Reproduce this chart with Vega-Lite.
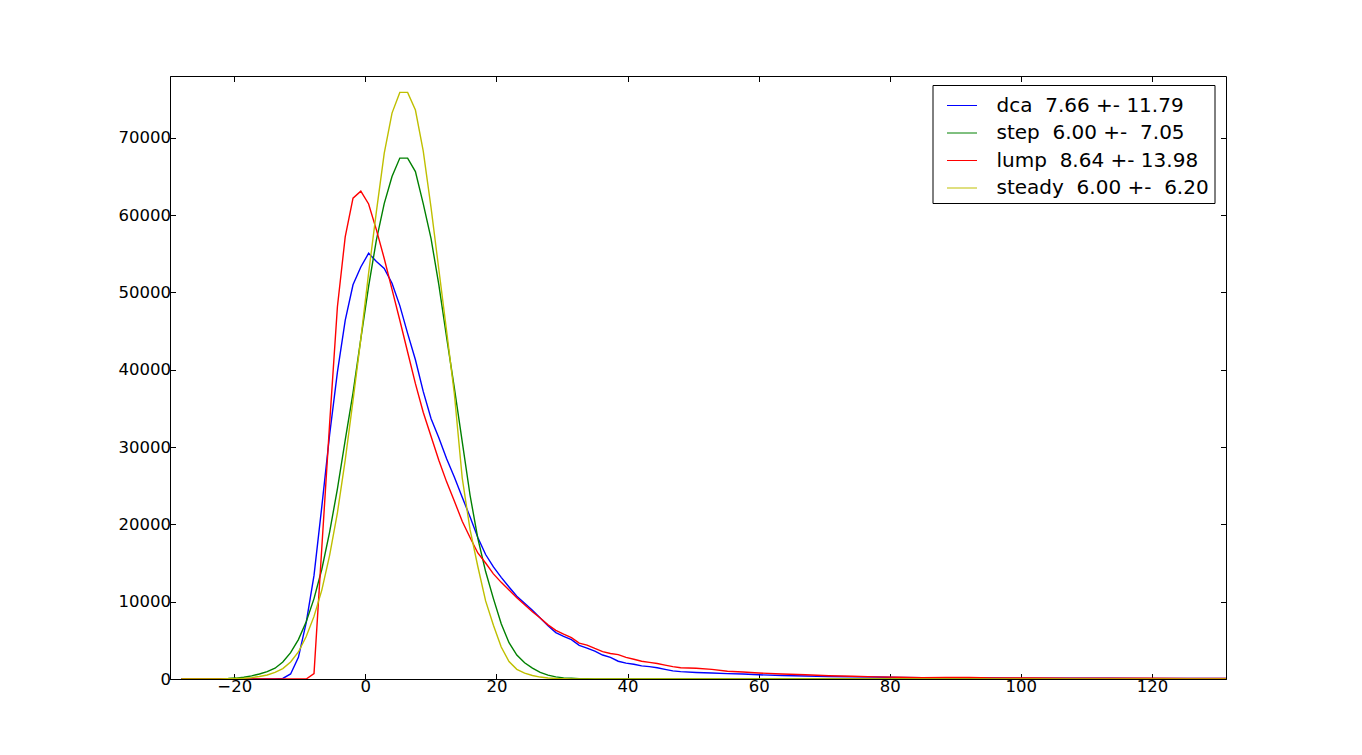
{
  "$schema": "https://vega.github.io/schema/vega-lite/v6.json",
  "width": 1056,
  "height": 603,
  "autosize": {"type": "none"},
  "padding": {"left": 170, "top": 76, "right": 136, "bottom": 76},
  "background": "white",
  "config": {
    "font": "DejaVu Sans",
    "view": {"stroke": "black", "strokeWidth": 1},
    "axis": {
      "grid": false,
      "domainColor": "black",
      "tickColor": "black",
      "labelColor": "black",
      "labelFont": "DejaVu Sans",
      "labelFontSize": 16.5,
      "tickSize": -5.5,
      "labelPadding": 5,
      "title": null
    },
    "legend": {
      "orient": "none",
      "legendX": 762.5,
      "legendY": 9,
      "title": null,
      "symbolType": "stroke",
      "symbolSize": 900,
      "symbolStrokeWidth": 1,
      "labelFont": "DejaVu Sans",
      "labelFontSize": 20,
      "labelColor": "black",
      "labelLimit": 400,
      "strokeColor": "black",
      "fillColor": "white",
      "padding": 5,
      "symbolOffset": 9,
      "labelOffset": 19,
      "rowPadding": 1.5,
      "cornerRadius": 0
    }
  },
  "data": {
    "values": [
      {"s": "dca", "x": -28.06, "y": 0}, {"s": "dca", "x": -20.92, "y": 0}, {"s": "dca", "x": -13.78, "y": 10},
      {"s": "dca", "x": -12.59, "y": 70}, {"s": "dca", "x": -11.4, "y": 650}, {"s": "dca", "x": -10.21, "y": 2800},
      {"s": "dca", "x": -9.02, "y": 7300}, {"s": "dca", "x": -7.83, "y": 13400}, {"s": "dca", "x": -6.64, "y": 22300},
      {"s": "dca", "x": -5.45, "y": 31600}, {"s": "dca", "x": -4.26, "y": 39700}, {"s": "dca", "x": -3.07, "y": 46400},
      {"s": "dca", "x": -1.88, "y": 51000}, {"s": "dca", "x": -0.69, "y": 53300}, {"s": "dca", "x": 0.5, "y": 55070},
      {"s": "dca", "x": 1.69, "y": 54000}, {"s": "dca", "x": 2.88, "y": 53100}, {"s": "dca", "x": 4.07, "y": 51200},
      {"s": "dca", "x": 5.26, "y": 48300}, {"s": "dca", "x": 6.45, "y": 44700}, {"s": "dca", "x": 7.64, "y": 41300},
      {"s": "dca", "x": 8.83, "y": 37200}, {"s": "dca", "x": 10.02, "y": 33700}, {"s": "dca", "x": 11.21, "y": 31200},
      {"s": "dca", "x": 12.4, "y": 28500}, {"s": "dca", "x": 13.59, "y": 26100}, {"s": "dca", "x": 14.78, "y": 23500},
      {"s": "dca", "x": 15.97, "y": 21000}, {"s": "dca", "x": 17.16, "y": 18300}, {"s": "dca", "x": 18.35, "y": 16100},
      {"s": "dca", "x": 19.54, "y": 14500}, {"s": "dca", "x": 20.73, "y": 13150}, {"s": "dca", "x": 21.92, "y": 11900},
      {"s": "dca", "x": 23.11, "y": 10700}, {"s": "dca", "x": 24.3, "y": 9800}, {"s": "dca", "x": 25.49, "y": 8900},
      {"s": "dca", "x": 26.68, "y": 7900}, {"s": "dca", "x": 27.87, "y": 6900}, {"s": "dca", "x": 29.06, "y": 6000},
      {"s": "dca", "x": 30.25, "y": 5500}, {"s": "dca", "x": 31.44, "y": 5100}, {"s": "dca", "x": 32.63, "y": 4350},
      {"s": "dca", "x": 33.82, "y": 4000}, {"s": "dca", "x": 35.01, "y": 3600}, {"s": "dca", "x": 36.2, "y": 3100},
      {"s": "dca", "x": 37.39, "y": 2800}, {"s": "dca", "x": 38.58, "y": 2300}, {"s": "dca", "x": 39.77, "y": 2050},
      {"s": "dca", "x": 40.96, "y": 1900}, {"s": "dca", "x": 42.15, "y": 1700}, {"s": "dca", "x": 43.34, "y": 1600},
      {"s": "dca", "x": 44.53, "y": 1450}, {"s": "dca", "x": 45.72, "y": 1250}, {"s": "dca", "x": 46.91, "y": 1050},
      {"s": "dca", "x": 48.1, "y": 950}, {"s": "dca", "x": 50.48, "y": 850}, {"s": "dca", "x": 52.86, "y": 780},
      {"s": "dca", "x": 55.24, "y": 700}, {"s": "dca", "x": 57.62, "y": 650}, {"s": "dca", "x": 60.0, "y": 550},
      {"s": "dca", "x": 63.57, "y": 450}, {"s": "dca", "x": 67.14, "y": 380}, {"s": "dca", "x": 70.71, "y": 330},
      {"s": "dca", "x": 74.28, "y": 300}, {"s": "dca", "x": 77.85, "y": 260}, {"s": "dca", "x": 81.42, "y": 200},
      {"s": "dca", "x": 84.99, "y": 160}, {"s": "dca", "x": 88.56, "y": 140}, {"s": "dca", "x": 92.13, "y": 130},
      {"s": "dca", "x": 95.7, "y": 120}, {"s": "dca", "x": 101.65, "y": 110}, {"s": "dca", "x": 107.6, "y": 100},
      {"s": "dca", "x": 113.55, "y": 90}, {"s": "dca", "x": 119.5, "y": 80}, {"s": "dca", "x": 125.45, "y": 70},
      {"s": "dca", "x": 131.4, "y": 60},

      {"s": "step", "x": -28.06, "y": 0}, {"s": "step", "x": -26.87, "y": 5}, {"s": "step", "x": -25.68, "y": 10},
      {"s": "step", "x": -24.49, "y": 15}, {"s": "step", "x": -23.3, "y": 25}, {"s": "step", "x": -22.11, "y": 45},
      {"s": "step", "x": -20.92, "y": 70}, {"s": "step", "x": -19.73, "y": 120}, {"s": "step", "x": -18.54, "y": 220},
      {"s": "step", "x": -17.35, "y": 400}, {"s": "step", "x": -16.16, "y": 650}, {"s": "step", "x": -14.97, "y": 950},
      {"s": "step", "x": -13.78, "y": 1400}, {"s": "step", "x": -12.59, "y": 2200}, {"s": "step", "x": -11.4, "y": 3400},
      {"s": "step", "x": -10.21, "y": 5100}, {"s": "step", "x": -9.02, "y": 7400}, {"s": "step", "x": -7.83, "y": 10400},
      {"s": "step", "x": -6.64, "y": 14200}, {"s": "step", "x": -5.45, "y": 19000}, {"s": "step", "x": -4.26, "y": 24600},
      {"s": "step", "x": -3.07, "y": 30900}, {"s": "step", "x": -1.88, "y": 37000}, {"s": "step", "x": -0.69, "y": 44000},
      {"s": "step", "x": 0.5, "y": 50800}, {"s": "step", "x": 1.69, "y": 56800}, {"s": "step", "x": 2.88, "y": 61500},
      {"s": "step", "x": 4.07, "y": 65000}, {"s": "step", "x": 5.26, "y": 67380}, {"s": "step", "x": 6.45, "y": 67380},
      {"s": "step", "x": 7.64, "y": 65640}, {"s": "step", "x": 8.83, "y": 61500}, {"s": "step", "x": 10.02, "y": 57000},
      {"s": "step", "x": 11.21, "y": 51000}, {"s": "step", "x": 12.4, "y": 44200}, {"s": "step", "x": 13.59, "y": 37600},
      {"s": "step", "x": 14.78, "y": 30700}, {"s": "step", "x": 15.97, "y": 23800}, {"s": "step", "x": 17.16, "y": 18200},
      {"s": "step", "x": 18.35, "y": 13900}, {"s": "step", "x": 19.54, "y": 10400}, {"s": "step", "x": 20.73, "y": 7150},
      {"s": "step", "x": 21.92, "y": 4700}, {"s": "step", "x": 23.11, "y": 3100}, {"s": "step", "x": 24.3, "y": 2100},
      {"s": "step", "x": 25.49, "y": 1400}, {"s": "step", "x": 26.68, "y": 850}, {"s": "step", "x": 27.87, "y": 500},
      {"s": "step", "x": 29.06, "y": 280}, {"s": "step", "x": 30.25, "y": 150}, {"s": "step", "x": 31.44, "y": 90},
      {"s": "step", "x": 32.63, "y": 50}, {"s": "step", "x": 33.82, "y": 30}, {"s": "step", "x": 35.01, "y": 15},
      {"s": "step", "x": 36.2, "y": 10}, {"s": "step", "x": 37.39, "y": 5}, {"s": "step", "x": 38.58, "y": 0},
      {"s": "step", "x": 131.4, "y": 0},

      {"s": "lump", "x": -28.06, "y": 0}, {"s": "lump", "x": -9.02, "y": 0}, {"s": "lump", "x": -7.83, "y": 700},
      {"s": "lump", "x": -6.64, "y": 17000}, {"s": "lump", "x": -5.45, "y": 33000}, {"s": "lump", "x": -4.26, "y": 48150},
      {"s": "lump", "x": -3.07, "y": 57200}, {"s": "lump", "x": -1.88, "y": 62200}, {"s": "lump", "x": -0.69, "y": 63100},
      {"s": "lump", "x": 0.5, "y": 61450}, {"s": "lump", "x": 1.69, "y": 58100}, {"s": "lump", "x": 2.88, "y": 54400},
      {"s": "lump", "x": 4.07, "y": 50400}, {"s": "lump", "x": 5.26, "y": 46400}, {"s": "lump", "x": 6.45, "y": 42300},
      {"s": "lump", "x": 7.64, "y": 38200}, {"s": "lump", "x": 8.83, "y": 34500}, {"s": "lump", "x": 10.02, "y": 31400},
      {"s": "lump", "x": 11.21, "y": 28300}, {"s": "lump", "x": 12.4, "y": 25500}, {"s": "lump", "x": 13.59, "y": 23000},
      {"s": "lump", "x": 14.78, "y": 20400}, {"s": "lump", "x": 15.97, "y": 18300}, {"s": "lump", "x": 17.16, "y": 16300},
      {"s": "lump", "x": 18.35, "y": 15000}, {"s": "lump", "x": 19.54, "y": 13600}, {"s": "lump", "x": 20.73, "y": 12500},
      {"s": "lump", "x": 21.92, "y": 11500}, {"s": "lump", "x": 23.11, "y": 10500}, {"s": "lump", "x": 24.3, "y": 9600},
      {"s": "lump", "x": 25.49, "y": 8700}, {"s": "lump", "x": 26.68, "y": 7900}, {"s": "lump", "x": 27.87, "y": 7000},
      {"s": "lump", "x": 29.06, "y": 6300}, {"s": "lump", "x": 30.25, "y": 5800}, {"s": "lump", "x": 31.44, "y": 5350},
      {"s": "lump", "x": 32.63, "y": 4650}, {"s": "lump", "x": 33.82, "y": 4380}, {"s": "lump", "x": 35.01, "y": 3950},
      {"s": "lump", "x": 36.2, "y": 3550}, {"s": "lump", "x": 37.39, "y": 3300}, {"s": "lump", "x": 38.58, "y": 3150},
      {"s": "lump", "x": 39.77, "y": 2800}, {"s": "lump", "x": 40.96, "y": 2550}, {"s": "lump", "x": 42.15, "y": 2300},
      {"s": "lump", "x": 43.34, "y": 2150}, {"s": "lump", "x": 44.53, "y": 2000}, {"s": "lump", "x": 45.72, "y": 1800},
      {"s": "lump", "x": 46.91, "y": 1600}, {"s": "lump", "x": 48.1, "y": 1450}, {"s": "lump", "x": 50.48, "y": 1400},
      {"s": "lump", "x": 52.86, "y": 1250}, {"s": "lump", "x": 55.24, "y": 1000}, {"s": "lump", "x": 57.62, "y": 900},
      {"s": "lump", "x": 60.0, "y": 780}, {"s": "lump", "x": 63.57, "y": 650}, {"s": "lump", "x": 67.14, "y": 550},
      {"s": "lump", "x": 70.71, "y": 430}, {"s": "lump", "x": 74.28, "y": 350}, {"s": "lump", "x": 77.85, "y": 280},
      {"s": "lump", "x": 81.42, "y": 220}, {"s": "lump", "x": 84.99, "y": 170}, {"s": "lump", "x": 88.56, "y": 200},
      {"s": "lump", "x": 92.13, "y": 190}, {"s": "lump", "x": 95.7, "y": 150}, {"s": "lump", "x": 101.65, "y": 130},
      {"s": "lump", "x": 107.6, "y": 110}, {"s": "lump", "x": 113.55, "y": 100}, {"s": "lump", "x": 119.5, "y": 90},
      {"s": "lump", "x": 125.45, "y": 80}, {"s": "lump", "x": 131.4, "y": 70},

      {"s": "steady", "x": -28.06, "y": 0}, {"s": "steady", "x": -26.87, "y": 5}, {"s": "steady", "x": -25.68, "y": 5},
      {"s": "steady", "x": -24.49, "y": 10}, {"s": "steady", "x": -23.3, "y": 15}, {"s": "steady", "x": -22.11, "y": 20},
      {"s": "steady", "x": -20.92, "y": 35}, {"s": "steady", "x": -19.73, "y": 60}, {"s": "steady", "x": -18.54, "y": 100},
      {"s": "steady", "x": -17.35, "y": 180}, {"s": "steady", "x": -16.16, "y": 320}, {"s": "steady", "x": -14.97, "y": 520},
      {"s": "steady", "x": -13.78, "y": 850}, {"s": "steady", "x": -12.59, "y": 1350}, {"s": "steady", "x": -11.4, "y": 2200},
      {"s": "steady", "x": -10.21, "y": 3500}, {"s": "steady", "x": -9.02, "y": 5500}, {"s": "steady", "x": -7.83, "y": 8100},
      {"s": "steady", "x": -6.64, "y": 11500}, {"s": "steady", "x": -5.45, "y": 16000}, {"s": "steady", "x": -4.26, "y": 21500},
      {"s": "steady", "x": -3.07, "y": 28300}, {"s": "steady", "x": -1.88, "y": 36000}, {"s": "steady", "x": -0.69, "y": 44000},
      {"s": "steady", "x": 0.5, "y": 52500}, {"s": "steady", "x": 1.69, "y": 60500}, {"s": "steady", "x": 2.88, "y": 68000},
      {"s": "steady", "x": 4.07, "y": 73200}, {"s": "steady", "x": 5.26, "y": 75880}, {"s": "steady", "x": 6.45, "y": 75880},
      {"s": "steady", "x": 7.64, "y": 73600}, {"s": "steady", "x": 8.83, "y": 68300}, {"s": "steady", "x": 10.02, "y": 61000},
      {"s": "steady", "x": 11.21, "y": 53000}, {"s": "steady", "x": 12.4, "y": 45000}, {"s": "steady", "x": 13.59, "y": 36800},
      {"s": "steady", "x": 14.78, "y": 26000}, {"s": "steady", "x": 15.97, "y": 19350}, {"s": "steady", "x": 17.16, "y": 14550},
      {"s": "steady", "x": 18.35, "y": 10100}, {"s": "steady", "x": 19.54, "y": 6950}, {"s": "steady", "x": 20.73, "y": 4130},
      {"s": "steady", "x": 21.92, "y": 2250}, {"s": "steady", "x": 23.11, "y": 1250}, {"s": "steady", "x": 24.3, "y": 750},
      {"s": "steady", "x": 25.49, "y": 450}, {"s": "steady", "x": 26.68, "y": 250}, {"s": "steady", "x": 27.87, "y": 130},
      {"s": "steady", "x": 29.06, "y": 70}, {"s": "steady", "x": 30.25, "y": 40}, {"s": "steady", "x": 31.44, "y": 20},
      {"s": "steady", "x": 32.63, "y": 10}, {"s": "steady", "x": 33.82, "y": 0}, {"s": "steady", "x": 131.4, "y": 0}
    ]
  },
  "layer": [
    {
      "mark": {"type": "line", "strokeWidth": 1.4, "clip": true},
      "encoding": {
        "x": {
          "field": "x",
          "type": "quantitative",
          "scale": {"domain": [-29.8, 131.3], "nice": false, "zero": false},
          "axis": {"orient": "bottom", "values": [-20, 0, 20, 40, 60, 80, 100, 120]}
        },
        "y": {
          "field": "y",
          "type": "quantitative",
          "scale": {"domain": [0, 78000], "nice": false},
          "axis": {"orient": "left", "format": "d", "values": [0, 10000, 20000, 30000, 40000, 50000, 60000, 70000]}
        },
        "color": {
          "field": "s",
          "type": "nominal",
          "scale": {"domain": ["dca", "step", "lump", "steady"], "range": ["#0000ff", "#008000", "#ff0000", "#bfbf00"]},
          "legend": {
            "labelExpr": "datum.label == 'dca' ? 'dca\u00a0 7.66 +- 11.79' : datum.label == 'step' ? 'step\u00a0 6.00 +-\u00a0 7.05' : datum.label == 'lump' ? 'lump\u00a0 8.64 +- 13.98' : 'steady\u00a0 6.00 +-\u00a0 6.20'"
          }
        }
      }
    },
    {
      "mark": {"type": "line", "opacity": 0},
      "encoding": {
        "x": {
          "field": "x",
          "type": "quantitative",
          "scale": {"domain": [-29.8, 131.3], "nice": false, "zero": false},
          "axis": {"orient": "top", "labels": false, "domain": false, "values": [-20, 0, 20, 40, 60, 80, 100, 120]}
        },
        "y": {
          "field": "y",
          "type": "quantitative",
          "scale": {"domain": [0, 78000], "nice": false},
          "axis": {"orient": "right", "labels": false, "domain": false, "values": [0, 10000, 20000, 30000, 40000, 50000, 60000, 70000]}
        }
      }
    }
  ],
  "resolve": {"axis": {"x": "independent", "y": "independent"}}
}
